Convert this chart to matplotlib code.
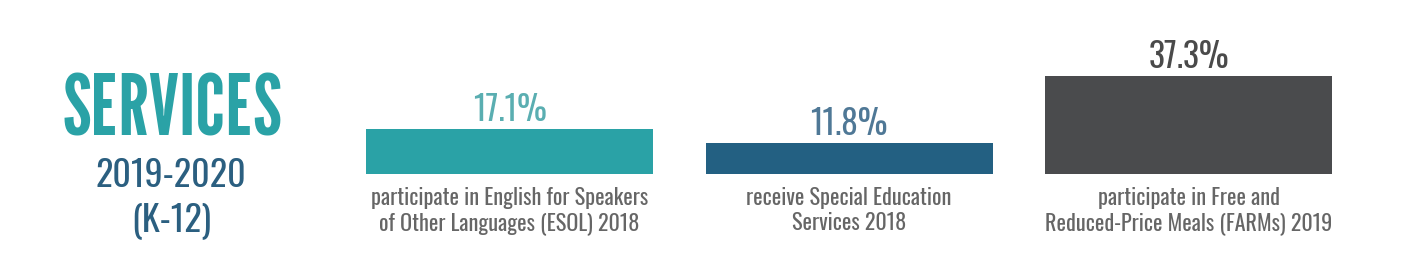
import matplotlib
matplotlib.use("Agg")
import matplotlib.pyplot as plt

categories = ["ESOL", "Special Education", "FARMs"]
values = [17.1, 11.8, 37.3]
value_labels = ["17.1%", "11.8%", "37.3%"]
descriptions = [
    ["participate in English for Speakers", "of Other Languages (ESOL) 2018"],
    ["receive Special Education", "Services 2018"],
    ["participate in Free and", "Reduced-Price Meals (FARMs) 2019"],
]
title = "SERVICES"
subtitle_lines = ["2019-2020", "(K-12)"]

bar_colors = ["#2aa2a6", "#236082", "#4a4b4d"]
label_colors = ["#5aaeb1", "#4f7896", "#4a4a4a"]
desc_color = "#666666"
title_color = "#2aa2a6"
subtitle_color = "#2b5f80"
FONT = "Oswald"
TITLE_FONT = "League Gothic"

W, H = 1406, 260
DPI = 100
fig = plt.figure(figsize=(W / DPI, H / DPI), dpi=DPI)
fig.patch.set_facecolor("white")


def fy(y_from_top):
    return (H - y_from_top) / H


def px2pt(p):
    return p * 72.0 / DPI


# Left title block
fig.text(172 / W, fy(136), title, ha="center", va="baseline",
         fontsize=61, fontfamily=TITLE_FONT, color=title_color)
fig.text(171 / W, fy(187), subtitle_lines[0], ha="center", va="baseline",
         fontsize=26, fontfamily=FONT, color=subtitle_color)
fig.text(171 / W, fy(231), subtitle_lines[1], ha="center", va="baseline",
         fontsize=26, fontfamily=FONT, color=subtitle_color)

# Bars axes
left_px, right_px = 339.75, 1358.25
base_px = 174
px_per_unit = 98 / 37.3
ymax = 40
ax = fig.add_axes([left_px / W, (H - base_px) / H,
                   (right_px - left_px) / W, ymax * px_per_unit / H])
x = list(range(len(categories)))
ax.bar(x, values, width=287 / 339.5, color=bar_colors)
ax.set_xlim(-0.5, len(categories) - 0.5)
ax.set_ylim(0, ymax)
ax.axis("off")

for i, v in enumerate(values):
    ax.annotate(value_labels[i], xy=(i, v), xytext=(0, px2pt(8)),
                textcoords="offset points", ha="center", va="baseline",
                fontsize=24, fontfamily=FONT,
                color=label_colors[i], annotation_clip=False)
    for j, line in enumerate(descriptions[i]):
        ax.annotate(line, xy=(i, 0), xytext=(0, -px2pt(31 + 25 * j)),
                    textcoords="offset points", ha="center", va="baseline",
                    fontsize=16, fontfamily=FONT,
                    color=desc_color, annotation_clip=False)

fig.savefig("out.png", dpi=DPI, facecolor="white")
